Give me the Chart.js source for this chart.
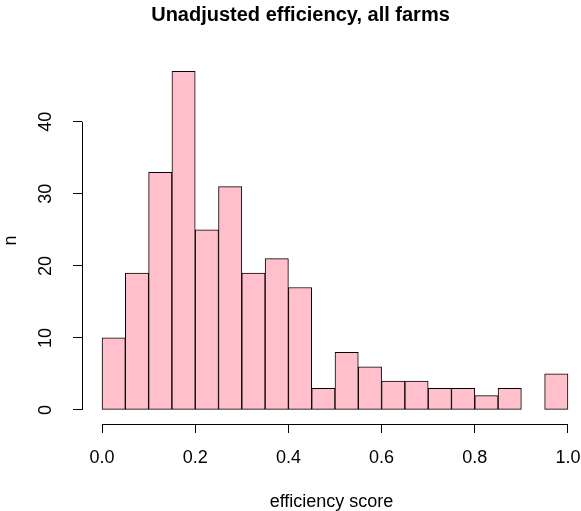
<!DOCTYPE html>
<html>
<head>
<meta charset="utf-8">
<script src="https://cdn.jsdelivr.net/npm/chart.js@4/dist/chart.umd.min.js"></script>
<style>
  html, body { margin: 0; padding: 0; background: #fff; }
  #wrap { width: 581px; height: 511px; }
</style>
</head>
<body>
<div id="wrap"><canvas id="myChart"></canvas></div>
<script>
// histogram bins (left edge), width 0.05
var binStart = [0.00, 0.05, 0.10, 0.15, 0.20, 0.25, 0.30, 0.35, 0.40, 0.45,
                0.50, 0.55, 0.60, 0.65, 0.70, 0.75, 0.80, 0.85, 0.90, 0.95];
var binWidth = 0.05;
var counts = [10, 19, 33, 47, 25, 31, 19, 21, 17, 3,
              8, 6, 4, 4, 3, 3, 2, 3, 0, 5];
var xTicks = [0, 0.2, 0.4, 0.6, 0.8, 1.0];
var yTicks = [0, 10, 20, 30, 40];

var FONT = "'Liberation Sans', Arial, sans-serif";

var points = binStart.map(function (s, i) {
    return { x: s + binWidth / 2, y: counts[i] };
});

// R-style axes: line only spans the tick range
var rAxes = {
    id: 'rAxes',
    afterDatasetsDraw: function (chart) {
        var c = chart.ctx, xs = chart.scales.x, ys = chart.scales.y;
        var a = chart.chartArea;
        c.save();
        c.strokeStyle = '#000';
        c.lineWidth = 1;
        c.beginPath();
        var yb = Math.round(a.bottom) + 0.5;
        c.moveTo(xs.getPixelForValue(xTicks[0]), yb);
        c.lineTo(xs.getPixelForValue(xTicks[xTicks.length - 1]), yb);
        var xl = Math.round(a.left) + 0.5;
        c.moveTo(xl, ys.getPixelForValue(yTicks[0]));
        c.lineTo(xl, ys.getPixelForValue(yTicks[yTicks.length - 1]));
        c.stroke();
        c.restore();
    }
};

var ctx = document.getElementById('myChart');
new Chart(ctx, {
    type: 'bar',
    data: {
        datasets: [{
            data: points,
            backgroundColor: '#FFC0CB',
            borderColor: '#000',
            borderWidth: 1,
            borderSkipped: false,
            barPercentage: 1,
            categoryPercentage: 1
        }]
    },
    options: {
        responsive: true,
        maintainAspectRatio: false,
        animation: false,
        layout: { padding: { left: 20 } },
        plugins: {
            legend: { display: false },
            tooltip: { enabled: false },
            title: {
                display: true,
                text: 'Unadjusted efficiency, all farms',
                color: '#000',
                font: { family: FONT, size: 20, weight: 'bold' },
                padding: { top: 3, bottom: 30 }
            }
        },
        scales: {
            x: {
                type: 'linear',
                offset: false,
                min: -0.043,
                max: 1.028,
                afterBuildTicks: function (s) {
                    s.ticks = xTicks.map(function (v) { return { value: v }; });
                },
                afterFit: function (s) {
                    s.height = 87;
                    s.paddingLeft = 0;
                    s.paddingRight = 0;
                },
                border: { display: false },
                grid: {
                    offset: false,
                    drawOnChartArea: false,
                    drawTicks: true,
                    tickLength: 9,
                    color: '#000'
                },
                ticks: {
                    padding: 14,
                    color: '#000',
                    maxRotation: 0,
                    font: { family: FONT, size: 18 },
                    callback: function (v) { return v.toFixed(1); }
                },
                title: {
                    display: true,
                    text: 'efficiency score',
                    color: '#000',
                    font: { family: FONT, size: 18 },
                    padding: { top: 0, bottom: -2 }
                }
            },
            y: {
                min: -1.95,
                max: 49,
                afterBuildTicks: function (s) {
                    s.ticks = yTicks.map(function (v) { return { value: v }; });
                },
                afterFit: function (s) { s.width = 62; },
                border: { display: false },
                grid: {
                    drawOnChartArea: false,
                    drawTicks: true,
                    tickLength: 9,
                    color: '#000'
                },
                ticks: {
                    padding: 17,
                    color: '#000',
                    minRotation: 90,
                    maxRotation: 90,
                    crossAlign: 'center',
                    font: { family: FONT, size: 18 }
                },
                title: {
                    display: true,
                    text: 'n',
                    color: '#000',
                    font: { family: FONT, size: 18 },
                    padding: { top: -20, bottom: 0 }
                }
            }
        }
    },
    plugins: [rAxes]
});
</script>
</body>
</html>
